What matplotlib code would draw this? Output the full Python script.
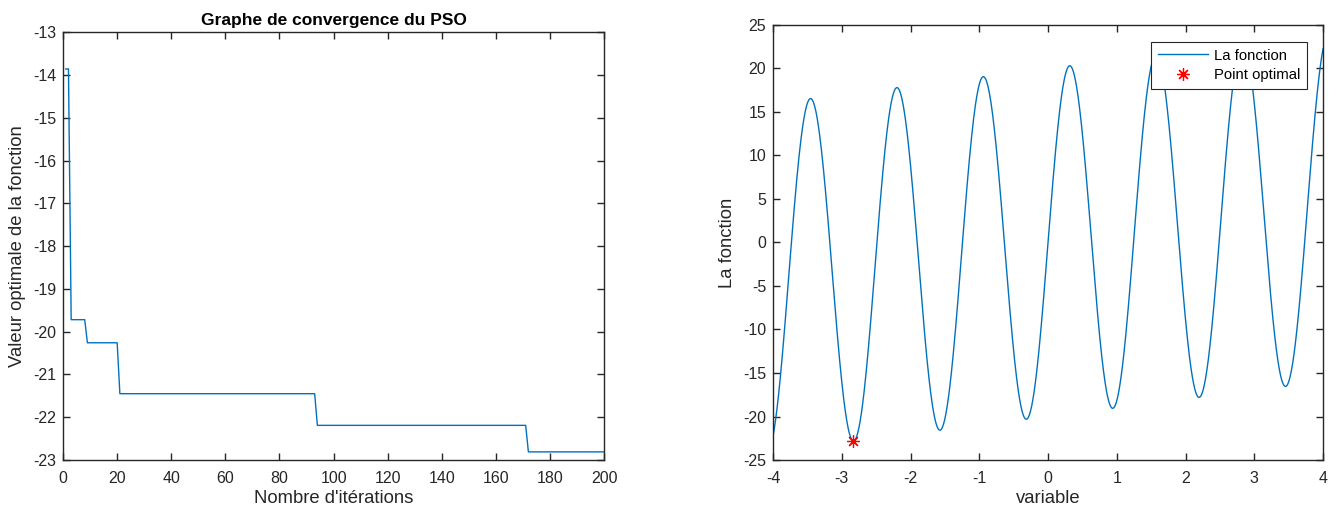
import numpy as np
import matplotlib
matplotlib.use("Agg")
import matplotlib.pyplot as plt

# Style proche de MATLAB
plt.rcParams["font.family"] = ["Liberation Sans", "DejaVu Sans"]
plt.rcParams["font.size"] = 11
plt.rcParams["axes.unicode_minus"] = False
plt.rcParams["xtick.direction"] = "in"
plt.rcParams["ytick.direction"] = "in"

# Convergence du PSO : paliers (iteration de debut, valeur)
palier_debut = [1, 3, 9, 21, 94, 172]
palier_valeur = [-13.86, -19.72, -20.26, -21.45, -22.19, -22.81]
n_iter = 200

# Fonction objectif f(x) = pente*x + amplitude*sin(freq*x)
pente = 1.0
amplitude = 20.0
freq = 5.0
x_min, x_max = -4, 4

# Point optimal trouve
x_opt = -2.83
y_opt = -22.81

bleu = "#0072BD"
gris = "#262626"

iterations = np.arange(1, n_iter + 1)
meilleur = np.zeros(n_iter)
for debut, val in zip(palier_debut, palier_valeur):
    meilleur[iterations >= debut] = val

x = np.linspace(x_min, x_max, 2000)
y = pente * x + amplitude * np.sin(freq * x)

fig = plt.figure(figsize=(13.36, 5.13), dpi=100)
ax1 = fig.add_axes([0.0472, 0.1033, 0.405, 0.834])
ax2 = fig.add_axes([0.5786, 0.1033, 0.4117, 0.848])


def style_axe(ax):
    for s in ax.spines.values():
        s.set_color(gris)
        s.set_linewidth(1.0)
    ax.tick_params(colors=gris, length=5, width=1.0, top=True, right=True,
                   labelsize=11.5)
    ax.tick_params(axis="x", pad=8)
    ax.tick_params(axis="y", pad=5)


# Graphe de gauche
ax1.plot(iterations, meilleur, color=bleu, lw=1.0)
ax1.set_xlim(0, 200)
ax1.set_ylim(-23, -13)
ax1.set_xticks(np.arange(0, 201, 20))
ax1.set_yticks(np.arange(-23, -12, 1))
style_axe(ax1)
ax1.set_xlabel("Nombre d'itérations", fontsize=13.3, color=gris, labelpad=3)
ax1.set_ylabel("Valeur optimale de la fonction", fontsize=13.3, color=gris, labelpad=5)
ax1.set_title("Graphe de convergence du PSO", fontsize=12.5, fontweight="bold", pad=5)

# Graphe de droite
ax2.plot(x, y, color=bleu, lw=1.0, label="La fonction")
ax2.plot([x_opt], [y_opt], linestyle="none", marker=(8, 2, 0), color="red",
         markersize=9, markeredgewidth=0.9, label="Point optimal")
ax2.set_xlim(x_min, x_max)
ax2.set_ylim(-25, 25)
ax2.set_xticks(np.arange(-4, 5, 1))
ax2.set_yticks(np.arange(-25, 26, 5))
style_axe(ax2)
ax2.set_xlabel("variable", fontsize=13.3, color=gris, labelpad=3)
ax2.set_ylabel("La fonction", fontsize=13.3, color=gris, labelpad=5)
leg = ax2.legend(loc="upper right", bbox_to_anchor=(0.971, 0.961), borderaxespad=0,
                 fontsize=10.7, fancybox=False, framealpha=1, edgecolor=gris,
                 borderpad=0.45, handlelength=3.4, handletextpad=0.4,
                 labelspacing=0.35)
leg.get_frame().set_linewidth(0.8)

fig.savefig("out.png", dpi=100)
